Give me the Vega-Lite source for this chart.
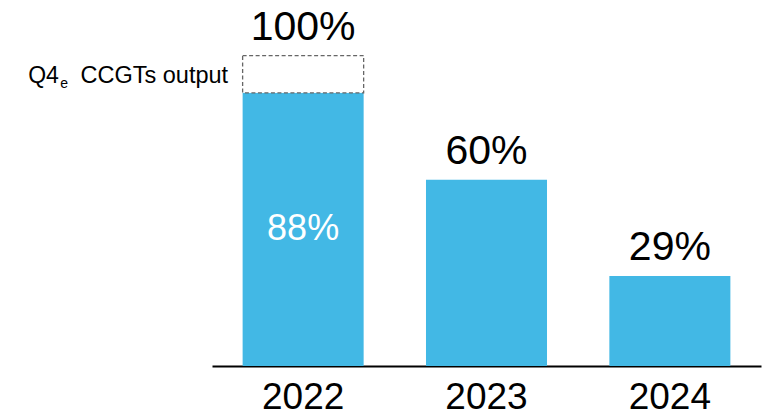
{
  "$schema": "https://vega.github.io/schema/vega-lite/v6.json",
  "width": 549,
  "height": 366,
  "autosize": "none",
  "padding": {"left": 212, "top": 0, "right": 4, "bottom": 49},
  "background": "white",
  "config": {"view": {"stroke": null}, "font": "Liberation Sans"},
  "data": {
    "values": [
      {"year": "2022", "share": 88, "cap": 100, "top": 100},
      {"year": "2023", "share": 60, "cap": null, "top": 60},
      {"year": "2024", "share": 29, "cap": null, "top": 29}
    ]
  },
  "encoding": {
    "x": {
      "field": "year",
      "type": "nominal",
      "scale": {"paddingInner": 0.34, "paddingOuter": 0.167},
      "axis": {
        "title": null,
        "domain": true,
        "domainColor": "#000000",
        "domainWidth": 2,
        "ticks": false,
        "labelAngle": 0,
        "labelFontSize": 37,
        "labelColor": "#000000",
        "labelPadding": 13,
        "grid": false
      }
    }
  },
  "layer": [
    {
      "mark": {"type": "bar", "color": "#42B8E5"},
      "encoding": {
        "y": {"field": "share", "type": "quantitative", "scale": {"domain": [0, 117.9], "nice": false}, "axis": null}
      }
    },
    {
      "transform": [{"filter": "datum.cap != null"}],
      "mark": {"type": "bar", "fill": "white", "stroke": "#666666", "strokeWidth": 1.3, "strokeDash": [4, 2.5]},
      "encoding": {
        "y": {"field": "share", "type": "quantitative"},
        "y2": {"field": "cap"}
      }
    },
    {
      "transform": [{"calculate": "datum.top + '%'", "as": "toplab"}],
      "mark": {"type": "text", "fontSize": 41, "baseline": "alphabetic", "dy": -16, "color": "#000000"},
      "encoding": {
        "y": {"field": "top", "type": "quantitative"},
        "text": {"field": "toplab"}
      }
    },
    {
      "transform": [{"filter": "datum.cap != null"}, {"calculate": "datum.share / 2", "as": "mid"}, {"calculate": "datum.share + '%'", "as": "lab"}],
      "mark": {"type": "text", "fontSize": 36, "baseline": "middle", "color": "white"},
      "encoding": {
        "y": {"field": "mid", "type": "quantitative"},
        "text": {"field": "lab"}
      }
    },
    {
      "transform": [{"filter": "datum.cap != null"}, {"calculate": "(datum.share + datum.cap) / 2", "as": "boxmid"}, {"calculate": "'Q4'", "as": "t"}],
      "mark": {"type": "text", "fontSize": 23, "align": "left", "baseline": "alphabetic", "dx": -275, "dy": 8.5, "color": "#000000"},
      "encoding": {
        "y": {"field": "boxmid", "type": "quantitative"},
        "text": {"field": "t"}
      }
    },
    {
      "transform": [{"filter": "datum.cap != null"}, {"calculate": "(datum.share + datum.cap) / 2", "as": "boxmid"}, {"calculate": "'e'", "as": "t"}],
      "mark": {"type": "text", "fontSize": 14, "align": "left", "baseline": "alphabetic", "dx": -243, "dy": 13.5, "color": "#000000"},
      "encoding": {
        "y": {"field": "boxmid", "type": "quantitative"},
        "text": {"field": "t"}
      }
    },
    {
      "transform": [{"filter": "datum.cap != null"}, {"calculate": "(datum.share + datum.cap) / 2", "as": "boxmid"}, {"calculate": "'CCGTs output'", "as": "t"}],
      "mark": {"type": "text", "fontSize": 23.5, "align": "right", "baseline": "alphabetic", "dx": -75, "dy": 8.5, "color": "#000000"},
      "encoding": {
        "y": {"field": "boxmid", "type": "quantitative"},
        "text": {"field": "t"}
      }
    }
  ]
}
